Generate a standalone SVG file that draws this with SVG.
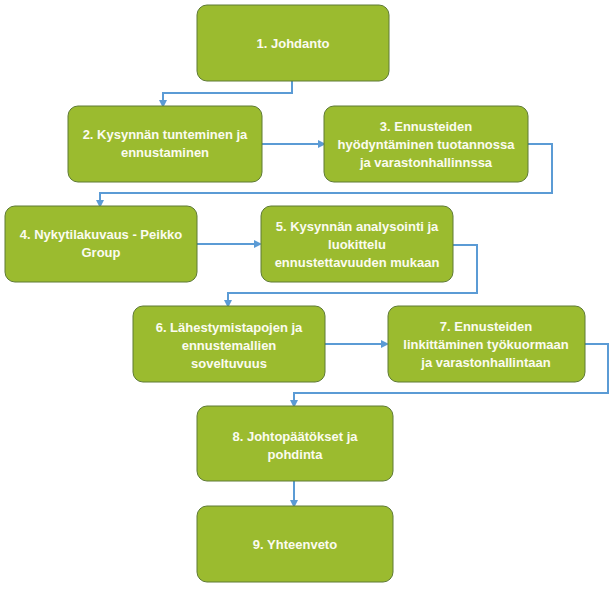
<svg xmlns="http://www.w3.org/2000/svg" width="616" height="589" viewBox="0 0 616 589">
<defs>
<style>
.box{fill:#9BBB2F;stroke:#5E7A35;stroke-width:1}
.lbl{font-family:"Liberation Sans",Arial,sans-serif;font-weight:bold;font-size:13px;fill:#FBFBF0;text-anchor:middle}
.con{fill:none;stroke:#5B9BD5;stroke-width:2}
</style>
<marker id="ah" markerWidth="8" markerHeight="8" refX="6" refY="4" orient="auto" markerUnits="userSpaceOnUse">
<path d="M0,0 L8,4 L0,8 Z" fill="#5B9BD5"/>
</marker>
</defs>
<rect width="616" height="589" fill="#FFFFFF"/>
<g id="connectors">
<path class="con" d="M292,81 V93 H163 V106" marker-end="url(#ah)"/>
<path class="con" d="M262,144 H324" marker-end="url(#ah)"/>
<path class="con" d="M528,144 H552 V193 H100 V206" marker-end="url(#ah)"/>
<path class="con" d="M197,244 H260" marker-end="url(#ah)"/>
<path class="con" d="M453,245 H477 V293 H228 V306" marker-end="url(#ah)"/>
<path class="con" d="M325,344 H387" marker-end="url(#ah)"/>
<path class="con" d="M585,344 H608 V393 H294 V406" marker-end="url(#ah)"/>
<path class="con" d="M294,481 V506" marker-end="url(#ah)"/>
</g>
<g id="n1"><rect class="box" x="197" y="5" width="192" height="76" rx="10"/><text class="lbl" x="293" y="48">1. Johdanto</text></g>
<g id="n2"><rect class="box" x="68" y="106" width="194" height="76" rx="10"/><text class="lbl" x="165" y="139">2. Kysynnän tunteminen ja</text><text class="lbl" x="165" y="157">ennustaminen</text></g>
<g id="n3"><rect class="box" x="324" y="106" width="204" height="76" rx="10"/><text class="lbl" x="426" y="131">3. Ennusteiden</text><text class="lbl" x="426" y="149">hyödyntäminen tuotannossa</text><text class="lbl" x="426" y="167">ja varastonhallinnssa</text></g>
<g id="n4"><rect class="box" x="5" y="206" width="192" height="76" rx="10"/><text class="lbl" x="101" y="239">4. Nykytilakuvaus - Peikko</text><text class="lbl" x="101" y="257">Group</text></g>
<g id="n5"><rect class="box" x="261" y="206" width="192" height="76" rx="10"/><text class="lbl" x="357" y="231">5. Kysynnän analysointi ja</text><text class="lbl" x="357" y="249">luokittelu</text><text class="lbl" x="357" y="267">ennustettavuuden mukaan</text></g>
<g id="n6"><rect class="box" x="133" y="306" width="192" height="76" rx="10"/><text class="lbl" x="229" y="332">6. Lähestymistapojen ja</text><text class="lbl" x="229" y="350">ennustemallien</text><text class="lbl" x="229" y="368">soveltuvuus</text></g>
<g id="n7"><rect class="box" x="388" y="306" width="197" height="76" rx="10"/><text class="lbl" x="486" y="331">7. Ennusteiden</text><text class="lbl" x="486" y="349">linkittäminen työkuormaan</text><text class="lbl" x="486" y="367">ja varastonhallintaan</text></g>
<g id="n8"><rect class="box" x="197" y="406" width="196" height="75" rx="10"/><text class="lbl" x="295" y="441">8. Johtopäätökset ja</text><text class="lbl" x="295" y="459">pohdinta</text></g>
<g id="n9"><rect class="box" x="197" y="506" width="196" height="76" rx="10"/><text class="lbl" x="295" y="549">9. Yhteenveto</text></g>
</svg>
